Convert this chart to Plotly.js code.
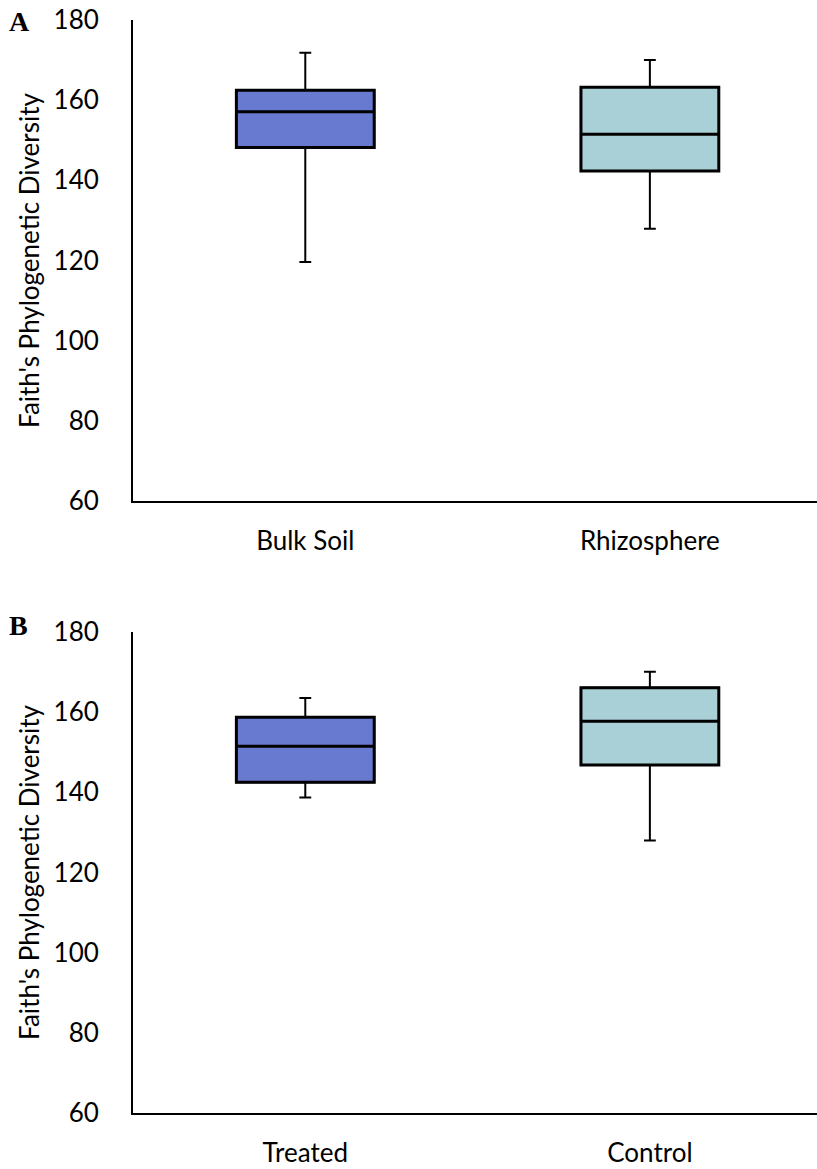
<!DOCTYPE html>
<html>
<head>
<meta charset="utf-8">
<script src="https://cdn.plot.ly/plotly-3.0.1.min.js"></script>
<style>
  html, body { margin: 0; padding: 0; background: #ffffff; }
  #chart { width: 817px; height: 1169px; }
</style>
</head>
<body>
<div id="chart"></div>
<script>
// Faith's phylogenetic diversity: panel A by compartment, panel B by treatment
const groupsA = ['Bulk Soil', 'Rhizosphere'];
const lowA = [119.6, 127.9];
const q1A = [148.2, 142.3];
const medA = [157.1, 151.5];
const q3A = [162.5, 163.2];
const highA = [171.8, 170.0];

const groupsB = ['Treated', 'Control'];
const lowB = [138.7, 128.0];
const q1B = [142.5, 146.8];
const medB = [151.5, 157.7];
const q3B = [158.7, 166.1];
const highB = [163.5, 170.1];

const fills = ['#6879d0', '#a8d0d6'];
const yTicks = [60, 80, 100, 120, 140, 160, 180];
const yTitle = "Faith's Phylogenetic Diversity";

const FONT = 'Lato, "Open Sans", sans-serif';

function panelTraces(groups, low, q1, med, q3, high, xa, ya) {
  const traces = [];
  groups.forEach((g, i) => {
    // whiskers with caps (thin line)
    traces.push({
      type: 'box', xaxis: xa, yaxis: ya,
      x: [g], q1: [q1[i]], median: [med[i]], q3: [q3[i]],
      lowerfence: [low[i]], upperfence: [high[i]],
      width: 0.4, whiskerwidth: 0.086,
      fillcolor: fills[i], line: { color: '#000000', width: 2 },
      boxpoints: false, hoverinfo: 'skip', showlegend: false
    });
    // box body and median (heavier outline)
    traces.push({
      type: 'box', xaxis: xa, yaxis: ya,
      x: [g], q1: [q1[i]], median: [med[i]], q3: [q3[i]],
      lowerfence: [q1[i]], upperfence: [q3[i]],
      width: 0.4, whiskerwidth: 0,
      fillcolor: fills[i], line: { color: '#000000', width: 3 },
      boxpoints: false, hoverinfo: 'skip', showlegend: false
    });
  });
  return traces;
}

const data = [].concat(
  panelTraces(groupsA, lowA, q1A, medA, q3A, highA, 'x', 'y'),
  panelTraces(groupsB, lowB, q1B, medB, q3B, highB, 'x2', 'y2')
);

function xAxis(anchor, cats) {
  return {
    anchor: anchor, type: 'category', categoryarray: cats, categoryorder: 'array',
    range: [-0.5, 1.485], showline: true, linecolor: '#000000', linewidth: 2,
    showgrid: false, zeroline: false, ticks: '', ticklabelstandoff: 16,
    tickfont: { family: FONT, size: 26, color: '#000000' }, fixedrange: true
  };
}
function yAxis(anchor, domain) {
  return {
    anchor: anchor, domain: domain, range: [60, 180], tickvals: yTicks,
    showline: true, linecolor: '#000000', linewidth: 2,
    showgrid: false, zeroline: false, ticks: '', ticklabelstandoff: 27,
    tickfont: { family: FONT, size: 26, color: '#000000' },
    title: { text: yTitle, font: { family: FONT, size: 26, color: '#000000' }, standoff: 6 },
    automargin: false, fixedrange: true
  };
}

const layout = {
  width: 817, height: 1169,
  margin: { l: 133, r: 0, t: 20, b: 56 },
  paper_bgcolor: '#ffffff', plot_bgcolor: '#ffffff',
  boxmode: 'overlay', showlegend: false,
  xaxis: xAxis('y', groupsA),
  yaxis: yAxis('x', [0.5599, 1]),
  xaxis2: xAxis('y2', groupsB),
  yaxis2: yAxis('x2', [0, 0.4401]),
  annotations: [
    { text: '<b>A</b>', xref: 'paper', yref: 'paper', x: -0.1842, y: 0.999,
      xanchor: 'left', yanchor: 'middle', showarrow: false,
      font: { family: '"Liberation Serif", "Times New Roman", serif', size: 28, color: '#000000' } },
    { text: '<b>B</b>', xref: 'paper', yref: 'paper', x: -0.1842, y: 0.4456,
      xanchor: 'left', yanchor: 'middle', showarrow: false,
      font: { family: '"Liberation Serif", "Times New Roman", serif', size: 28, color: '#000000' } }
  ]
};

Plotly.newPlot('chart', data, layout, { staticPlot: true, displayModeBar: false });
</script>
</body>
</html>
